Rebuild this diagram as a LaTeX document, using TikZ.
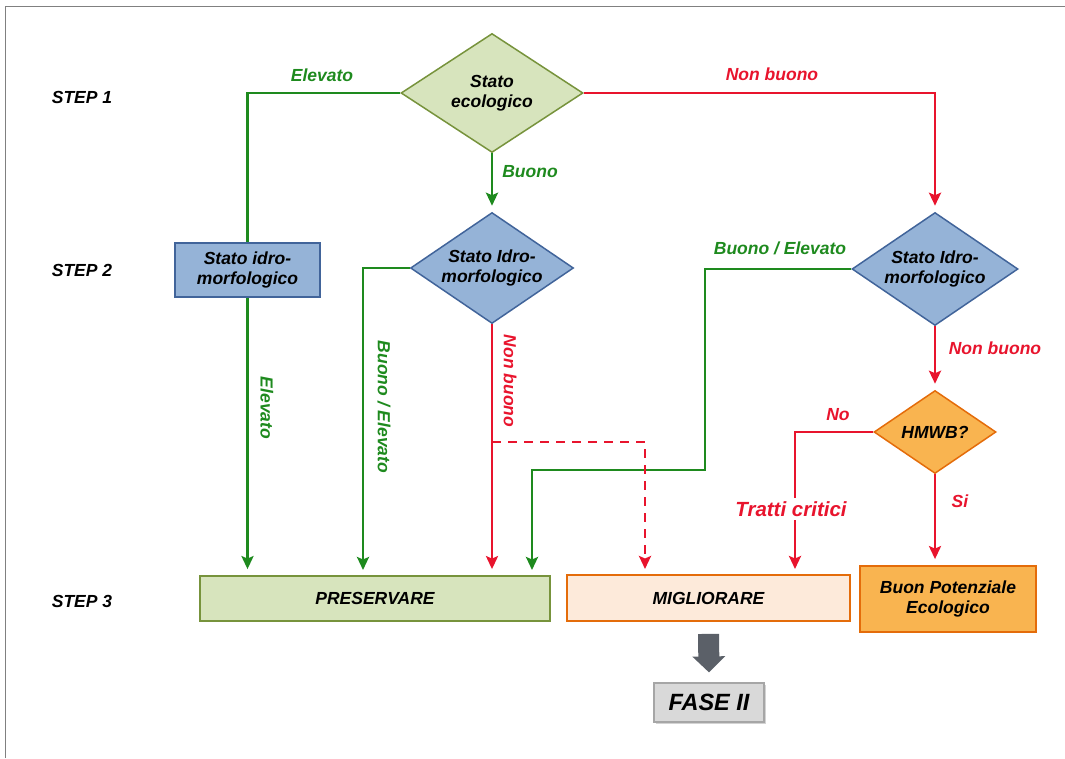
\documentclass[tikz,border=0pt]{standalone}
\usepackage{fontspec}
\setmainfont{Liberation Sans}
\usetikzlibrary{shapes.geometric, arrows.meta, shadows}

\definecolor{ecofill}{HTML}{D7E4BD}
\definecolor{ecodraw}{HTML}{77933C}
\definecolor{idrofill}{HTML}{95B3D7}
\definecolor{idrodraw}{HTML}{41649A}
\definecolor{hmfill}{HTML}{F9B450}
\definecolor{hmdraw}{HTML}{E46C0A}
\definecolor{migfill}{HTML}{FDEADA}
\definecolor{okgreen}{HTML}{1E8A1E}
\definecolor{kored}{HTML}{E8142D}
\definecolor{fatgray}{HTML}{5B6068}

\tikzset{
  txt/.style={font=\fontsize{17.5}{20}\selectfont\bfseries\itshape, align=center},
  steplbl/.style={txt, text=black},
  oklbl/.style={txt, text=okgreen},
  kolbl/.style={txt, text=kored},
  decision/.style={diamond, txt, draw, line width=1.5pt, inner sep=0pt, aspect=1.47},
  boxnode/.style={rectangle, txt, draw, line width=1.8pt, inner sep=0pt},
  okline/.style={draw=okgreen, line width=2.8pt},
  koline/.style={draw=kored, line width=2.8pt},
  arr/.style={-{Stealth[length=13pt, width=12pt, inset=2.5pt]}, shorten >=6pt},
}

\begin{document}
\begin{tikzpicture}[x=1pt, y=-1pt]

  \useasboundingbox (0,0) rectangle (1065,758);

  % -- frame --
  \draw[gray, line width=1pt] (5,758) -- (5,6) -- (1065,6);

  % -- step labels --
  \node[steplbl] (s1) at (82,97) {STEP 1};
  \node[steplbl] (s2) at (82,270) {STEP 2};
  \node[steplbl] (s3) at (82,601) {STEP 3};

  % -- decisions --
  \node[decision, aspect=1.53, fill=ecofill, draw=ecodraw, minimum width=182pt, minimum height=119pt] (eco) at (492,93) {Stato\\ecologico};
  \node[decision, fill=idrofill, draw=idrodraw, minimum width=163pt, minimum height=111pt] (idroA) at (492,268) {Stato Idro-\\morfologico};
  \node[decision, fill=idrofill, draw=idrodraw, minimum width=166pt, minimum height=113pt] (idroB) at (935,269) {Stato Idro-\\morfologico};
  \node[decision, fill=hmfill, draw=hmdraw, minimum width=122pt, minimum height=83pt] (hmwb) at (935,432) {HMWB?};

  % -- boxes --
  \node[boxnode, fill=idrofill, draw=idrodraw, minimum width=145pt, minimum height=54pt] (idrobox) at (247.5,270) {Stato idro-\\morfologico};
  \node[boxnode, fill=ecofill, draw=ecodraw, minimum width=350pt, minimum height=45pt] (pres) at (375,598.5) {PRESERVARE};
  \node[boxnode, fill=migfill, draw=hmdraw, minimum width=283pt, minimum height=46pt] (mig) at (708.5,598) {MIGLIORARE};
  \node[boxnode, fill=hmfill, draw=hmdraw, minimum width=176pt, minimum height=66pt] (bpe) at (948,599) {Buon Potenziale\\Ecologico};
  \node[boxnode, fill=gray!30, draw=gray!70, line width=1.2pt, minimum width=110pt, minimum height=39pt,
        font=\fontsize{23.5}{26}\selectfont\bfseries\itshape,
        drop shadow={shadow xshift=1.5pt, shadow yshift=-1.5pt, opacity=0.35}] (fase) at (709,702.5) {FASE II};

  % -- bend points --
  \coordinate (pB) at (363,576);
  \coordinate (pC) at (532,576);
  \coordinate (bendC) at (705,470);
  \coordinate (dash0) at (492,442);
  \coordinate (mD) at (645,575);
  \coordinate (tc) at (795,575);

  % -- green branches --
  \draw[okline] (eco.west) -| (idrobox.north);
  \draw[okline, arr] (idrobox.south) -- (idrobox.south |- pres.north);
  \draw[okline, arr] (eco.south) -- (idroA.north);
  \draw[okline, arr] (idroA.west) -| (pB);
  \draw[okline, arr] (idroB.west) -| (bendC) -| (pC);

  % -- red branches --
  \draw[koline, arr] (idroA.south) -- (idroA.south |- pres.north);
  \draw[koline, arr, dashed, dash pattern=on 9pt off 7pt] (dash0) -| (mD);
  \draw[koline, arr] (eco.east) -| (idroB.north);
  \draw[koline, arr] (idroB.south) -- (hmwb.north);
  \draw[koline, arr] (hmwb.west) -| (tc);
  \draw[koline, arr] (hmwb.south) -- (hmwb.south |- bpe.north);

  % -- fat arrow to phase II --
  \draw[fatgray, line width=21pt, -{Triangle[length=16pt 0, width=32pt 0]}]
    ([yshift=-12pt]mig.south) -- ([yshift=10pt]fase.north);

  % -- branch labels --
  \node[oklbl] (lElev) at (322,75) {Elevato};
  \node[oklbl] (lBuono) at (530,172) {Buono};
  \node[kolbl] (lNonA) at (772,74) {Non buono};
  \node[oklbl] (lBEb) at (780,248) {Buono / Elevato};
  \node[kolbl] (lNonB) at (995,348) {Non buono};
  \node[kolbl] (lNo) at (838,415) {No};
  \node[kolbl, fill=white, inner sep=3pt, font=\fontsize{20.5}{23}\selectfont\bfseries\itshape] (lTratti) at (791,509) {Tratti critici};
  \node[kolbl] (lSi) at (960,501) {Si};
  \node[oklbl, rotate=-90] (lElevV) at (267,408) {Elevato};
  \node[oklbl, rotate=-90] (lBEa) at (384,407) {Buono / Elevato};
  \node[kolbl, rotate=-90] (lNonV) at (510,381) {Non buono};

\end{tikzpicture}
\end{document}
